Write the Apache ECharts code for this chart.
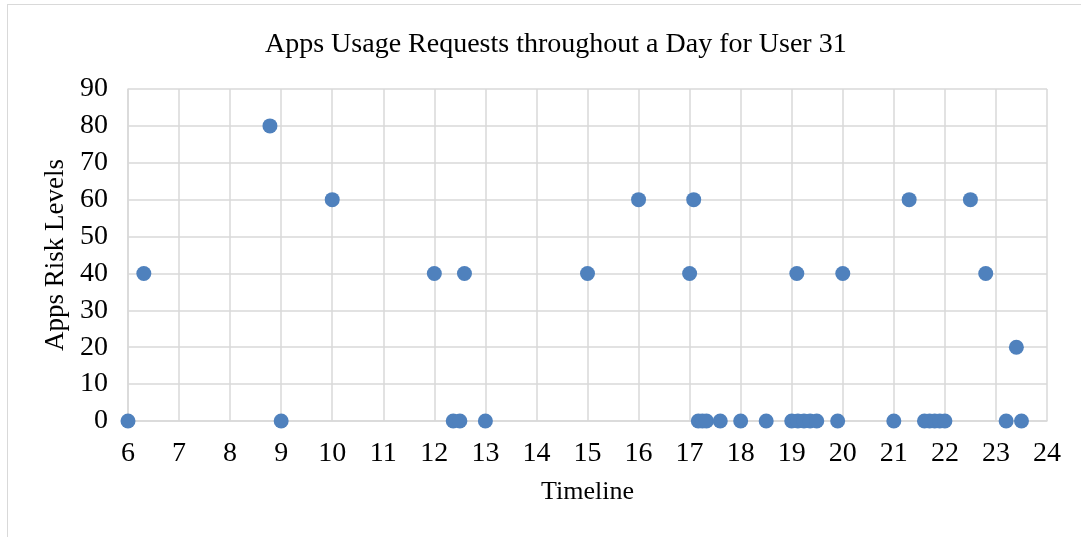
<!DOCTYPE html>
<html>
<head>
<meta charset="utf-8">
<script src="https://cdn.jsdelivr.net/npm/echarts@6/dist/echarts.min.js"></script>
<style>
  html, body { margin: 0; padding: 0; background: #fff; }
  #frame { position: absolute; left: 7px; top: 4px; width: 1080px; height: 540px; border: 1px solid #d9d9d9; box-sizing: border-box; }
  #chart { position: absolute; left: 0; top: 0; width: 1081px; height: 537px; }
</style>
</head>
<body>
<div id="frame"></div>
<div id="chart"></div>
<script>
// hour of day (x) and risk level (y) for each request
var hours = [6, 6.31, 8.78, 9, 10, 12, 12.37, 12.5, 12.59, 13, 15, 16, 17, 17.08,
  17.17, 17.25, 17.33, 17.6, 18, 18.5, 19, 19.1, 19.12, 19.24, 19.36, 19.49, 19.9, 20,
  21, 21.3, 21.6, 21.7, 21.8, 21.9, 22, 22.5, 22.8, 23.2, 23.4, 23.5]
var risk = [0, 40, 80, 0, 60, 40, 0, 0, 40, 0, 40, 60, 40, 60,
  0, 0, 0, 0, 0, 0, 0, 40, 0, 0, 0, 0, 0, 40,
  0, 60, 0, 0, 0, 0, 0, 60, 40, 0, 20, 0]

var xMin = 6
var xMax = 24
var yMin = 0
var yMax = 90

var points = []
for (let i = 0; i < hours.length; i++) {
  points.push([hours[i], risk[i]])
}

var chart = echarts.init(document.getElementById('chart'))
var font = 'Liberation Serif, Times New Roman, serif'
chart.setOption({
  animation: false,
  title: {
    text: 'Apps Usage Requests throughout a Day for User 31',
    left: 260,
    top: 26,
    textStyle: { color: '#000', fontSize: 28, fontWeight: 'normal', fontFamily: font }
  },
  grid: { left: 128, right: 34, top: 89, bottom: 116 },
  xAxis: {
    type: 'value',
    min: xMin,
    max: xMax,
    interval: 1,
    name: 'Timeline',
    nameLocation: 'middle',
    nameGap: 58,
    nameTextStyle: { color: '#000', fontSize: 26, fontFamily: font },
    axisLine: { lineStyle: { color: '#d9d9d9', width: 1.5 } },
    axisTick: { show: false },
    axisLabel: { color: '#000', fontSize: 28, fontFamily: font, margin: 19 },
    splitLine: { show: true, lineStyle: { color: '#d9d9d9', width: 1.5 } }
  },
  yAxis: {
    type: 'value',
    min: yMin,
    max: yMax,
    interval: 10,
    name: 'Apps Risk Levels',
    nameLocation: 'middle',
    nameGap: 56,
    nameTextStyle: { color: '#000', fontSize: 27, fontFamily: font },
    axisLine: { show: true, lineStyle: { color: '#d9d9d9', width: 1.5 } },
    axisTick: { show: false },
    axisLabel: { color: '#000', fontSize: 28, fontFamily: font, margin: 20 },
    splitLine: { show: true, lineStyle: { color: '#d9d9d9', width: 1.5 } }
  },
  series: [
    {
      type: 'scatter',
      symbolSize: 15,
      itemStyle: { color: '#4f81bd', opacity: 1 },
      data: points
    }
  ]
})
</script>
</body>
</html>
